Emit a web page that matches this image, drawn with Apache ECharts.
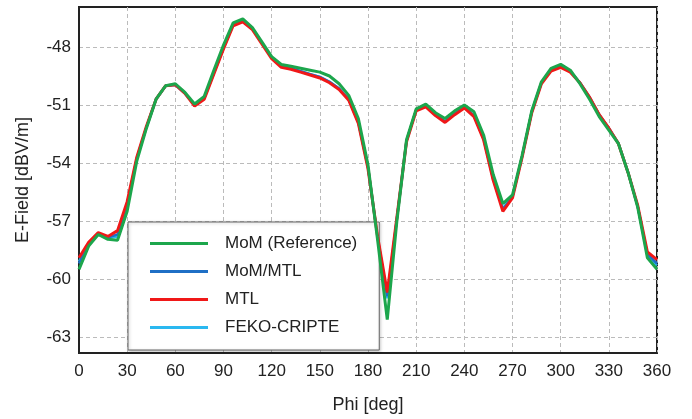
<!DOCTYPE html>
<html>
<head>
<meta charset="utf-8">
<script src="https://cdn.jsdelivr.net/npm/echarts@6/dist/echarts.min.js"></script>
<style>html,body{margin:0;padding:0;background:#fff;}#c{width:692px;height:419px;}</style>
</head>
<body>
<div id="c"></div>
<script>
const phi = [0,6,12,18,24,30,36,42,48,54,60,66,72,78,84,90,96,102,108,114,120,126,132,138,144,150,156,162,168,174,180,186,192,198,204,210,216,222,228,234,240,246,252,258,264,270,276,282,288,294,300,306,312,318,324,330,336,342,348,354,360];
const mom = [-59.5,-58.3,-57.7,-57.95,-58.0,-56.5,-53.9,-52.2,-50.7,-50.0,-49.9,-50.35,-50.95,-50.55,-49.2,-47.9,-46.75,-46.55,-47.0,-47.75,-48.5,-48.9,-49.0,-49.1,-49.2,-49.3,-49.5,-49.9,-50.5,-51.7,-54.1,-58.0,-62.1,-57.0,-52.8,-51.2,-50.95,-51.4,-51.7,-51.3,-51.0,-51.35,-52.55,-54.6,-56.1,-55.65,-53.6,-51.3,-49.8,-49.1,-48.9,-49.2,-49.9,-50.7,-51.6,-52.3,-53.0,-54.5,-56.3,-58.9,-59.5];
const mommtl = [-59.2,-58.2,-57.65,-57.85,-57.7,-56.1,-53.75,-52.15,-50.7,-50.0,-49.95,-50.4,-51.0,-50.65,-49.35,-48.05,-46.85,-46.65,-47.05,-47.8,-48.55,-49.0,-49.1,-49.25,-49.4,-49.55,-49.8,-50.15,-50.7,-51.9,-54.25,-57.85,-60.9,-56.85,-52.85,-51.25,-51.05,-51.5,-51.85,-51.45,-51.1,-51.55,-52.75,-54.85,-56.4,-55.75,-53.65,-51.35,-49.85,-49.2,-49.0,-49.25,-49.85,-50.6,-51.5,-52.2,-53.0,-54.5,-56.25,-58.7,-59.2];
const mtl = [-58.9,-58.1,-57.6,-57.8,-57.5,-56.0,-53.7,-52.1,-50.7,-50.0,-49.95,-50.4,-51.05,-50.7,-49.4,-48.1,-46.9,-46.7,-47.1,-47.85,-48.6,-49.05,-49.15,-49.3,-49.45,-49.6,-49.85,-50.2,-50.75,-51.95,-54.3,-57.8,-60.7,-56.8,-52.9,-51.3,-51.1,-51.55,-51.9,-51.5,-51.15,-51.6,-52.8,-54.9,-56.5,-55.8,-53.7,-51.4,-49.9,-49.25,-49.05,-49.3,-49.85,-50.6,-51.5,-52.2,-53.0,-54.5,-56.2,-58.6,-59.0];
const feko = [-59.1,-58.2,-57.7,-57.9,-57.8,-56.2,-53.8,-52.15,-50.7,-50.0,-49.95,-50.4,-51.0,-50.65,-49.35,-48.05,-46.85,-46.65,-47.05,-47.8,-48.55,-49.0,-49.1,-49.25,-49.4,-49.55,-49.8,-50.15,-50.7,-51.9,-54.2,-57.9,-61.0,-56.9,-52.85,-51.25,-51.05,-51.5,-51.85,-51.45,-51.1,-51.55,-52.75,-54.8,-56.35,-55.75,-53.65,-51.35,-49.85,-49.2,-49.0,-49.25,-49.85,-50.6,-51.5,-52.2,-53.0,-54.5,-56.25,-58.8,-59.3];
const yTicks = [-63,-60,-57,-54,-51,-48];
const seriesNames = ['MoM (Reference)','MoM/MTL','MTL','FEKO-CRIPTE'];
const colors = ['#1ca64c','#1f6fc5','#f01818','#2ab8f0'];

const font = 'Liberation Sans, Arial, sans-serif';
const chart = echarts.init(document.getElementById('c'), null, {renderer:'canvas'});
const datas = [mom, mommtl, mtl, feko];
const widths = [3, 2.5, 3, 2.5];
const zs = [5, 3, 4, 2];
chart.setOption({
  animation:false,
  color: colors,
  grid:{left:79,right:35,top:7,bottom:66,show:true,borderColor:'#222',borderWidth:2,backgroundColor:'#fff'},
  legend:{
    orient:'vertical', left:128, top:222,
    data: seriesNames,
    icon:'rect', itemWidth:58, itemHeight:3, itemGap:11,
    padding:[13,22,14,22],
    backgroundColor:'#fff', borderColor:'#666', borderWidth:1,
    shadowColor:'rgba(0,0,0,0.25)', shadowBlur:3, shadowOffsetX:1, shadowOffsetY:1,
    textStyle:{fontFamily:font,fontSize:17,color:'#222',padding:[0,0,0,12]}
  },
  xAxis:{
    type:'value', min:0, max:360, interval:30,
    name:'Phi [deg]', nameLocation:'middle', nameGap:43,
    nameTextStyle:{fontFamily:font,fontSize:18,color:'#222'},
    axisLine:{show:true,lineStyle:{color:'#222',width:2}},
    axisTick:{show:false},
    axisLabel:{fontFamily:font,fontSize:17,color:'#222',margin:10},
    splitLine:{show:true,lineStyle:{color:'#bbb',type:[4,3],width:1}}
  },
  yAxis:{
    type:'value', min:-63.83, max:-45.93,
    name:'E-Field [dBV/m]', nameLocation:'middle', nameGap:47,
    nameTextStyle:{fontFamily:font,fontSize:18,color:'#222'},
    axisLine:{show:true,lineStyle:{color:'#222',width:2}},
    axisTick:{show:false, customValues:yTicks},
    axisLabel:{fontFamily:font,fontSize:17,color:'#222',margin:8,customValues:yTicks},
    splitLine:{show:true,lineStyle:{color:'#bbb',type:[4,3],width:1}}
  },
  series: seriesNames.map((n,i)=>({
    name:n, type:'line', showSymbol:false, symbol:'none', z:zs[i],
    data: phi.map((p,j)=>[p, datas[i][j]]),
    lineStyle:{width:widths[i], color:colors[i]},
    itemStyle:{color:colors[i]}
  }))
});
</script>
</body>
</html>
